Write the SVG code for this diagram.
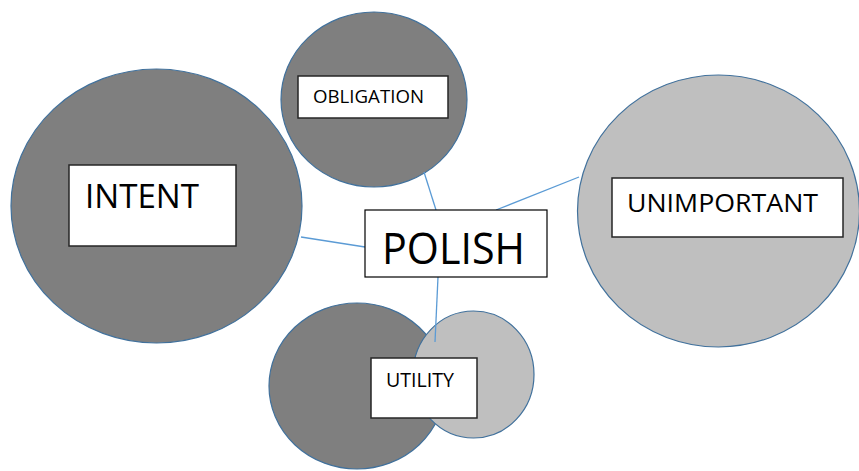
<svg xmlns="http://www.w3.org/2000/svg" width="859" height="471" viewBox="0 0 859 471">
<style>
.dark{fill:#7f7f7f;stroke:#41719c;stroke-width:1.2}
.light{fill:#bfbfbf;stroke:#41719c;stroke-width:1.2}
.box{fill:#fff;stroke:#262626;stroke-width:1.5}
.lbl{font-family:"Open Sans","Liberation Sans",Arial,sans-serif;fill:#000}
.conn line{stroke:#5b9bd5;stroke-width:1.3}
</style>
<rect width="859" height="471" fill="#fff"/>
<g id="intent">
<ellipse class="dark" cx="156.5" cy="206" rx="145.5" ry="137"/>
<rect class="box" x="69" y="165" width="167" height="81"/>
<text class="lbl" x="85" y="208" font-size="32" textLength="114" lengthAdjust="spacingAndGlyphs">INTENT</text>
</g>
<g id="obligation">
<ellipse class="dark" cx="374" cy="99.5" rx="93" ry="87.5"/>
<rect class="box" x="298" y="76" width="150" height="42"/>
<text class="lbl" x="313" y="103" font-size="17.5" textLength="111" lengthAdjust="spacingAndGlyphs">OBLIGATION</text>
</g>
<g id="unimportant">
<ellipse class="light" cx="718.5" cy="211" rx="141" ry="136"/>
<rect class="box" x="612" y="178" width="231" height="59"/>
<text class="lbl" x="627" y="212" font-size="26" textLength="191" lengthAdjust="spacingAndGlyphs">UNIMPORTANT</text>
</g>
<g id="utility">
<ellipse class="dark" cx="357" cy="386" rx="88" ry="83"/>
<ellipse class="light" cx="473.5" cy="374.5" rx="60.5" ry="63.5"/>
</g>
<g id="connectors" class="conn">
<line x1="436" y1="210" x2="424" y2="172"/>
<line x1="496" y1="210" x2="579" y2="177"/>
<line x1="365" y1="247" x2="301" y2="237"/>
<line x1="438" y1="277" x2="435" y2="342"/>
</g>
<g id="utility-label">
<rect class="box" x="371" y="358" width="106" height="60"/>
<text class="lbl" x="386" y="387" font-size="20" textLength="68" lengthAdjust="spacingAndGlyphs">UTILITY</text>
</g>
<g id="polish">
<rect x="365" y="210" width="182" height="67" fill="#fff" stroke="#000" stroke-width="1.2"/>
<text class="lbl" x="382" y="264" font-size="43" textLength="143" lengthAdjust="spacingAndGlyphs">POLISH</text>
</g>
</svg>
